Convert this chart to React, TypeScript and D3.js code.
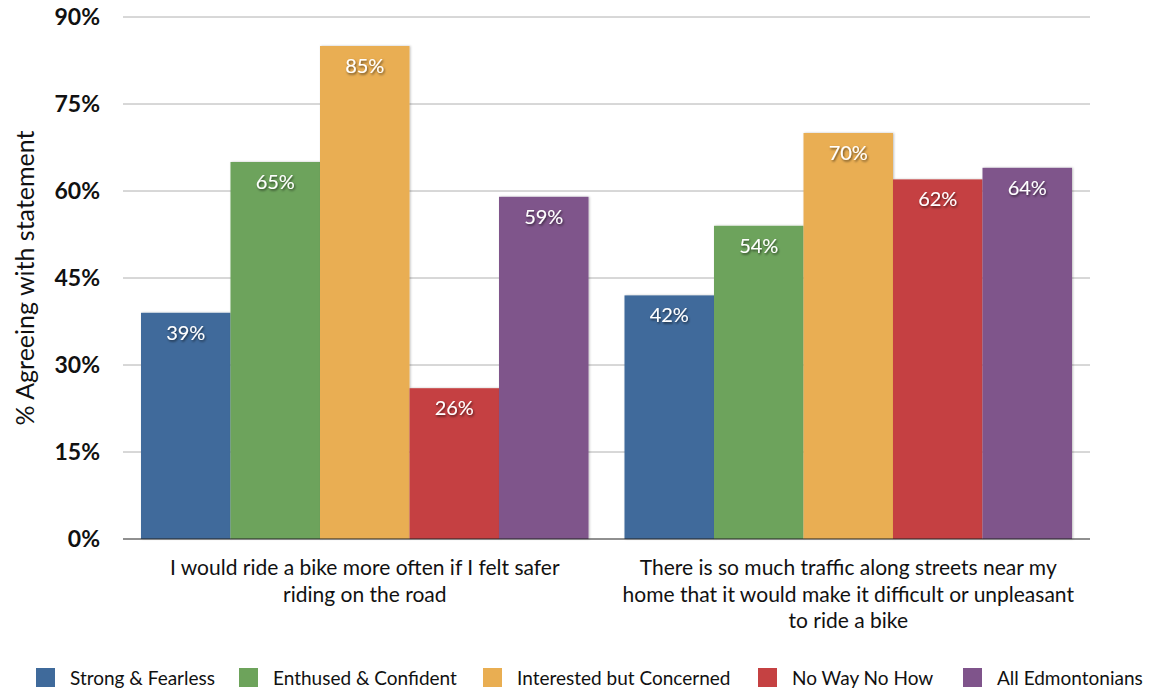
import React from "react";
import * as d3 from "d3";

const categories = [
  ["I would ride a bike more often if I felt safer", "riding on the road"],
  ["There is so much traffic along streets near my", "home that it would make it difficult or unpleasant", "to ride a bike"],
];
const categoryKeys = ["safer", "traffic"];
const seriesNames = ["Strong & Fearless", "Enthused & Confident", "Interested but Concerned", "No Way No How", "All Edmontonians"];
const seriesColors = ["#3f6a9b", "#6da35b", "#e9ae52", "#c54142", "#7f548b"];
const safeValues = [39, 65, 85, 26, 59];
const trafficValues = [42, 54, 70, 62, 64];
const yTicks = [0, 15, 30, 45, 60, 75, 90];
const legendX = [36, 239, 483, 758, 963];

const W = 1152, H = 694;
const left = 123, right = 1090, top = 17, bottom = 539;
const font = "Lato, 'Open Sans', sans-serif";

export default function App() {
  const y = d3.scaleLinear().domain([0, 90]).range([bottom, top]);
  const x0 = d3.scaleBand<string>().domain(categoryKeys).range([left, right]);
  const x1 = d3.scaleBand<string>().domain(seriesNames).range([18, x0.bandwidth() - 18]);
  const data = [safeValues, trafficValues];
  return (
    <svg width={W} height={H} style={{ position: "absolute", left: 0, top: 0, background: "#fff" }}>
      <defs>
        <filter id="ts" x="-20%" y="-20%" width="140%" height="140%">
          <feDropShadow dx="1" dy="1.5" stdDeviation="1" floodColor="#000" floodOpacity="0.6" />
        </filter>
        <filter id="bs" x="-10%" y="-10%" width="120%" height="120%">
          <feDropShadow dx="1" dy="0" stdDeviation="1.2" floodColor="#000" floodOpacity="0.25" />
        </filter>
      </defs>
      {yTicks.map((t) => (
        <g key={t}>
          {t > 0 && <line x1={left} x2={right} y1={y(t)} y2={y(t)} stroke="#b0b0b0" strokeWidth={1} />}
          <text x={100} y={y(t)} dy="0.35em" textAnchor="end" fontFamily={font} fontSize={23} fontWeight={700} fill="#111">
            {t}%
          </text>
        </g>
      ))}
      <text transform={`translate(34,278) rotate(-90)`} textAnchor="middle" fontFamily={font} fontSize={25} fill="#111">
        % Agreeing with statement
      </text>
      {categoryKeys.map((c, ci) => (
        <g key={c} transform={`translate(${x0(c)},0)`}>
          {seriesNames.map((s, si) => {
            const v = data[ci][si];
            return (
              <g key={s}>
                <rect x={x1(s)} y={y(v)} width={x1.bandwidth()} height={bottom - y(v)} fill={seriesColors[si]} filter="url(#bs)" />
                <text x={(x1(s) as number) + x1.bandwidth() / 2} y={y(v) + 27} textAnchor="middle" fontFamily={font} fontSize={20} fill="#fff" filter="url(#ts)">
                  {v}%
                </text>
              </g>
            );
          })}
          {categories[ci].map((line, li) => (
            <text key={li} x={x0.bandwidth() / 2} y={575 + li * 26.5} textAnchor="middle" fontFamily={font} fontSize={21} fill="#111">
              {line}
            </text>
          ))}
        </g>
      ))}
      <line x1={left} x2={right} y1={bottom} y2={bottom} stroke="#222" strokeWidth={1.2} />
      {seriesNames.map((s, si) => (
        <g key={s} transform={`translate(${legendX[si]},668)`}>
          <rect x={0} y={0} width={19} height={19} fill={seriesColors[si]} />
          <text x={34} y={10} dy="0.35em" fontFamily={font} fontSize={19} fill="#111">
            {s}
          </text>
        </g>
      ))}
    </svg>
  );
}
